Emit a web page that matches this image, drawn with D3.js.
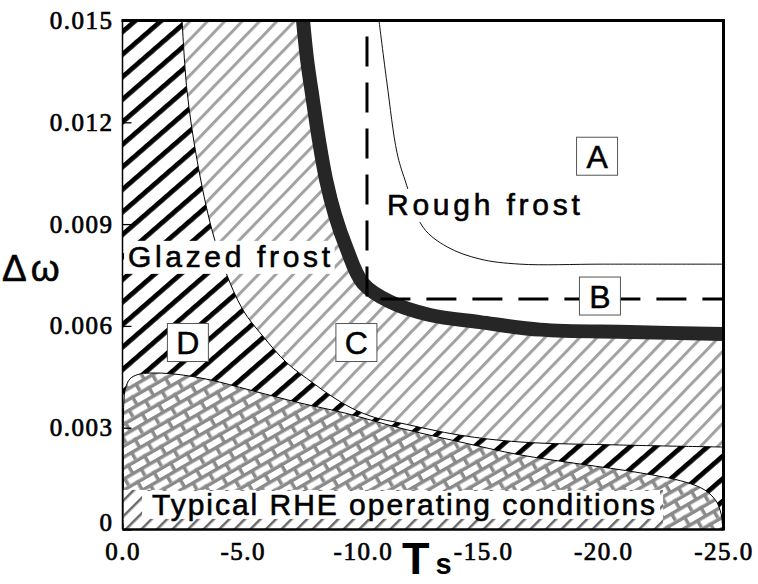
<!DOCTYPE html>
<html>
<head>
<meta charset="utf-8">
<script src="https://cdn.jsdelivr.net/npm/d3@7"></script>
<style>
  html, body { margin: 0; padding: 0; background: #fff; }
  svg { display: block; }
</style>
</head>
<body>
<svg id="chart" width="758" height="584"></svg>
<script>
// ---- Axis ticks ----
const xTicks = [0, -5, -10, -15, -20, -25];
const xTickLabels = ["0.0", "-5.0", "-10.0", "-15.0", "-20.0", "-25.0"];
const yTicks = [0, 0.003, 0.006, 0.009, 0.012, 0.015];
const yTickLabels = ["0", "0.003", "0.006", "0.009", "0.012", "0.015"];

// ---- Boundary curves, [Ts, Δω] ----
// glazed frost (D) / transition zone (C) boundary
const glazedBoundary = [
  [-2.48, 0.01500], [-2.68, 0.01295], [-3.10, 0.01089], [-3.72, 0.00883],
  [-4.26, 0.00765], [-5.01, 0.00647], [-5.80, 0.00573], [-6.84, 0.00491],
  [-7.92, 0.00432], [-8.76, 0.00390], [-9.55, 0.00357], [-10.50, 0.00330],
  [-11.54, 0.00314], [-14.04, 0.00278], [-16.53, 0.00258], [-20.69, 0.00249],
  [-25.0, 0.00243]
];
// thick transition band between C and rough frost
const transitionBand = [
  [-7.51, 0.01500], [-7.68, 0.01384], [-7.92, 0.01266], [-8.17, 0.01148],
  [-8.47, 0.01030], [-8.84, 0.00927], [-9.30, 0.00833], [-10.0, 0.00726],
  [-11.13, 0.00671], [-12.79, 0.00632], [-14.87, 0.00611], [-17.37, 0.00589],
  [-21.11, 0.00582], [-25.0, 0.00576]
];
// rough frost (A) limit
const roughBoundary = [
  [-10.67, 0.01500], [-11.00, 0.01316], [-11.42, 0.01110], [-11.75, 0.01030],
  [-12.50, 0.00891], [-13.50, 0.00833], [-14.87, 0.00797], [-16.53, 0.00782],
  [-20.0, 0.00782], [-25.0, 0.00782]
];
// typical RHE operating envelope (closed along Δω = 0)
const rheEnvelope = [
  [-0.06, 0.0], [-0.06, 0.00382], [-0.13, 0.00417], [-0.31, 0.00444],
  [-0.65, 0.00457], [-1.14, 0.00461], [-2.18, 0.00458], [-3.64, 0.00441],
  [-5.30, 0.00411], [-7.38, 0.00373], [-9.26, 0.00343], [-11.54, 0.00299],
  [-14.04, 0.00258], [-16.53, 0.00220], [-19.03, 0.00193], [-21.53, 0.00167],
  [-23.40, 0.00140], [-24.23, 0.00116], [-24.69, 0.00084], [-24.90, 0.00046],
  [-24.97, 0.0]
];
// dashed limit line
const dashedLimit = [[-10.17, 0.015], [-10.17, 0.00679], [-25.0, 0.00679]];

// ---- Annotations ----
const regionLetters = [
  { text: "A", t: -19.74, w: 0.01100 },
  { text: "B", t: -19.86, w: 0.00688 },
  { text: "C", t: -9.73, w: 0.00551 },
  { text: "D", t: -2.72, w: 0.00551 }
];
const regionNames = [
  { text: "Rough frost", t: -11.0, w: 0.00927, len: 193 },
  { text: "Glazed frost", t: -0.23, w: 0.00774, len: 202 },
  { text: "Typical RHE operating conditions", t: -1.23, w: 0.00043, len: 503 }
];

// ---- Scales ----
const svg = d3.select("#chart");
const x = d3.scaleLinear().domain([0, -25]).range([122.5, 723.5]);
const y = d3.scaleLinear().domain([0, 0.015]).range([529.5, 20.5]);
const X0 = x(0), X1 = x(-25), Y0 = y(0), Y1 = y(0.015);

const sansFont = "'Liberation Sans', Arial, sans-serif";
const serifFont = "'Liberation Serif', 'Times New Roman', serif";

// ---- Patterns ----
const defs = svg.append("defs");
function stripes(id, spacing, width, color, angle) {
  const p = defs.append("pattern").attr("id", id)
    .attr("patternUnits", "userSpaceOnUse")
    .attr("width", spacing).attr("height", spacing)
    .attr("patternTransform", `rotate(${angle})`);
  p.append("rect").attr("width", spacing).attr("height", spacing).attr("fill", "#fff");
  p.append("rect").attr("width", width).attr("height", spacing).attr("fill", color);
}
stripes("hatchDark", 17, 4.8, "#000", 49);
stripes("hatchLight", 12.5, 3, "#a2a2a2", 44);
stripes("hatchStrip", 11, 2.5, "#6a6a6a", 45);

// brick mesh for the operating envelope
const bw = 19, bh = 19, m = 3.5, mortar = "#8a8a8a";
const brick = defs.append("pattern").attr("id", "bricks")
  .attr("patternUnits", "userSpaceOnUse")
  .attr("width", bw).attr("height", bh)
  .attr("patternTransform", "rotate(-30)");
brick.append("rect").attr("width", bw).attr("height", bh).attr("fill", "#fff");
brick.append("rect").attr("x", 0).attr("y", 0).attr("width", bw).attr("height", m).attr("fill", mortar);
brick.append("rect").attr("x", 0).attr("y", bh / 2).attr("width", bw).attr("height", m).attr("fill", mortar);
brick.append("rect").attr("x", 0).attr("y", 0).attr("width", m).attr("height", bh / 2).attr("fill", mortar);
brick.append("rect").attr("x", bw / 2).attr("y", bh / 2).attr("width", m).attr("height", bh / 2).attr("fill", mortar);

// ---- Clips ----
defs.append("clipPath").attr("id", "plotClip")
  .append("rect").attr("x", X0).attr("y", Y1).attr("width", X1 - X0).attr("height", Y0 - Y1);

const curveLine = d3.line().x(d => x(d[0])).y(d => y(d[1])).curve(d3.curveCatmullRom.alpha(0.5));
const rhePath = curveLine(rheEnvelope) + "Z";
defs.append("clipPath").attr("id", "rheClip").append("path").attr("d", rhePath);

const plot = svg.append("g").attr("clip-path", "url(#plotClip)");

// glazed frost region (whole field first)
plot.append("rect").attr("x", X0).attr("y", Y1).attr("width", X1 - X0).attr("height", Y0 - Y1)
  .attr("fill", "url(#hatchDark)");

// transition zone C: between glazed boundary and the thick band
const bandRev = curveLine(transitionBand.slice().reverse()).replace(/^M/, "L");
const cPath = curveLine(glazedBoundary) + bandRev + "Z";
plot.append("path").attr("d", cPath).attr("fill", "url(#hatchLight)");

// rough frost field: right of the band
const roughPath = curveLine(transitionBand) + `L${X1},${Y1 - 2}L${x(-7.51)},${Y1 - 2}Z`;
plot.append("path").attr("d", roughPath).attr("fill", "#fff");

// boundary lines
plot.append("path").attr("d", curveLine(glazedBoundary))
  .attr("fill", "none").attr("stroke", "#000").attr("stroke-width", 1);
plot.append("path").attr("d", curveLine(roughBoundary))
  .attr("fill", "none").attr("stroke", "#111").attr("stroke-width", 1);
plot.append("path").attr("d", curveLine(transitionBand))
  .attr("fill", "none").attr("stroke", "#262626").attr("stroke-width", 14);

// operating envelope
plot.append("path").attr("d", rhePath).attr("fill", "url(#bricks)")
  .attr("stroke", "#000").attr("stroke-width", 1);

// dashed limit
const straight = d3.line().x(d => x(d[0])).y(d => y(d[1]));
plot.append("path").attr("d", straight(dashedLimit))
  .attr("fill", "none").attr("stroke", "#000").attr("stroke-width", 3)
  .attr("stroke-dasharray", "30,16").attr("stroke-dashoffset", 30);

// ---- Region names with white backing ----
const nameG = svg.append("g");
regionNames.forEach((d, i) => {
  const g = nameG.append("g");
  const t = g.append("text")
    .attr("x", x(d.t)).attr("y", y(d.w))
    .attr("font-family", sansFont).attr("font-size", 30)
    .attr("textLength", d.len).attr("lengthAdjust", "spacing")
    .attr("fill", "#000").attr("stroke", "#000").attr("stroke-width", 0.6)
    .text(d.text);
  const bb = t.node().getBBox();
  if (i === 2) {
    // hatched strip under the operating label
    g.insert("rect", "text")
      .attr("x", X0).attr("y", bb.y + 2).attr("width", bb.x + bb.width + 8 - X0)
      .attr("height", Y0 - bb.y - 2)
      .attr("fill", "url(#hatchStrip)").attr("clip-path", "url(#rheClip)");
    g.insert("rect", "text")
      .attr("x", bb.x - 10).attr("y", bb.y + 3).attr("width", bb.width + 15).attr("height", bb.height - 5)
      .attr("fill", "#fff");
  } else {
    g.insert("rect", "text")
      .attr("x", bb.x - 4).attr("y", bb.y + 1).attr("width", bb.width + 8).attr("height", bb.height)
      .attr("fill", "#fff");
  }
});

// ---- Boxed region letters ----
const letterG = svg.append("g");
regionLetters.forEach(d => {
  const cx = x(d.t), cy = y(d.w);
  letterG.append("rect").attr("x", cx - 20.5).attr("y", cy - 19).attr("width", 41).attr("height", 38)
    .attr("fill", "#fff").attr("stroke", "#555").attr("stroke-width", 1);
  letterG.append("text").attr("x", cx).attr("y", cy + 11.5)
    .attr("text-anchor", "middle").attr("font-family", sansFont).attr("font-size", 32)
    .attr("fill", "#000").attr("stroke", "#000").attr("stroke-width", 0.5).text(d.text);
});

// ---- Frame ----
const frame = svg.append("g").attr("stroke", "#000").attr("fill", "none");
frame.append("line").attr("x1", X0).attr("x2", X0).attr("y1", Y1).attr("y2", Y0).attr("stroke-width", 1.5);
frame.append("line").attr("x1", X0).attr("x2", X1).attr("y1", Y0).attr("y2", Y0).attr("stroke-width", 2.5);
frame.append("line").attr("x1", X0 - 1).attr("x2", X1 + 1.5).attr("y1", Y1).attr("y2", Y1).attr("stroke-width", 3);
frame.append("line").attr("x1", X1).attr("x2", X1).attr("y1", Y1).attr("y2", Y0 + 1).attr("stroke-width", 3);

// ---- Axes ----
const yAxis = d3.axisLeft(y).tickValues(yTicks)
  .tickFormat((d, i) => yTickLabels[i]).tickSizeInner(-9).tickSizeOuter(0).tickPadding(9);
const gy = svg.append("g").attr("transform", `translate(${X0},0)`).call(yAxis);
gy.select(".domain").remove();
gy.selectAll(".tick line").attr("stroke", "#000").attr("stroke-width", 1.3);
gy.selectAll(".tick text").attr("font-family", serifFont).attr("font-size", 25)
  .attr("letter-spacing", "1.5px").attr("fill", "#000")
  .attr("stroke", "#000").attr("stroke-width", 0.7)
  .attr("dy", d => d === 0 ? "0.02em" : "0.32em");

const xAxis = d3.axisBottom(x).tickValues(xTicks)
  .tickFormat((d, i) => xTickLabels[i]).tickSize(0).tickPadding(13);
const gx = svg.append("g").attr("transform", `translate(0,${Y0})`).call(xAxis);
gx.select(".domain").remove();
gx.selectAll(".tick text").attr("font-family", serifFont).attr("font-size", 25)
  .attr("letter-spacing", "1.5px").attr("fill", "#000")
  .attr("stroke", "#000").attr("stroke-width", 0.7);

// ---- Axis titles ----
svg.append("text").attr("x", 2).attr("y", 281)
  .attr("font-family", sansFont).attr("font-size", 37).attr("letter-spacing", "4px")
  .attr("fill", "#000").attr("stroke", "#000").attr("stroke-width", 0.6).text("Δω");

const ts = svg.append("text").attr("x", 402).attr("y", 574)
  .attr("font-family", sansFont).attr("font-weight", "bold").attr("fill", "#000");
ts.append("tspan").attr("font-size", 45).text("T");
ts.append("tspan").attr("font-size", 29).attr("dx", 6).text("s");
</script>
</body>
</html>
